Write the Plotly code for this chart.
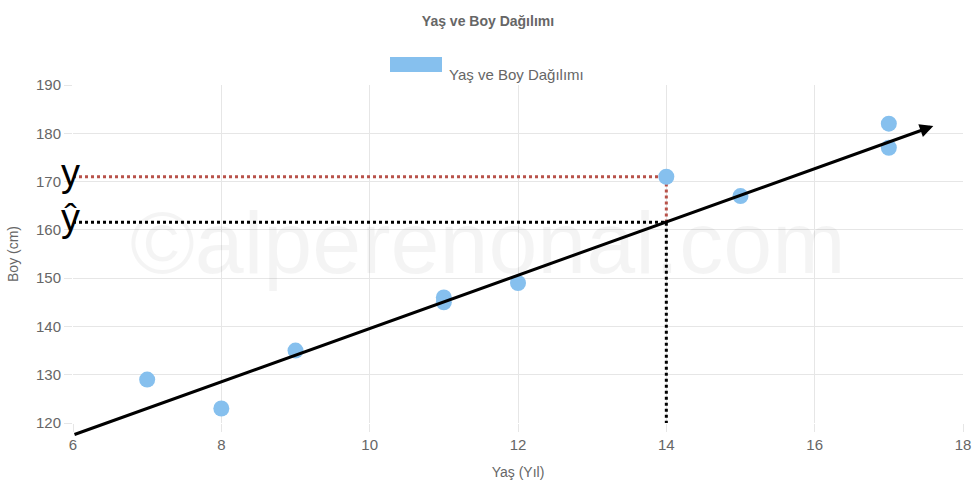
import plotly.graph_objects as go

# Data
ages = [7, 8, 9, 11, 11, 12, 14, 15, 17, 17]
heights = [129, 123, 135, 146, 145, 149, 171, 167, 182, 177]
series_name = "Yaş ve Boy Dağılımı"
reg_x = [6, 17.6]
reg_y = [117.5, 181.5]
focus_x = 14
focus_y = 171
focus_yhat = 161.6
x_ticks = [6, 8, 10, 12, 14, 16, 18]
y_ticks = [120, 130, 140, 150, 160, 170, 180, 190]

L, R, T, B = 73, 13, 85, 65
W, H = 976, 488
pw, ph = W - L - R, H - T - B
FONT = "Liberation Sans, Arial, sans-serif"

def px(xp):
    return (xp - L) / pw

def py(yp):
    return (H - B - yp) / ph

fig = go.Figure()

# residual dotted lines
fig.add_trace(go.Scatter(x=[6, focus_x, focus_x], y=[focus_y, focus_y, focus_yhat],
                         mode="lines", line=dict(color="#b8524a", width=3, dash="dot"),
                         showlegend=False, hoverinfo="skip"))
fig.add_trace(go.Scatter(x=[6, focus_x, focus_x], y=[focus_yhat, focus_yhat, 120],
                         mode="lines", line=dict(color="#000000", width=3, dash="dot"),
                         showlegend=False, hoverinfo="skip"))

fig.add_trace(go.Scatter(x=ages, y=heights, mode="markers", name=series_name,
                         marker=dict(color="#86c0ee", size=16), showlegend=False,
                         cliponaxis=False))

# regression arrow
fig.add_annotation(x=reg_x[1], y=reg_y[1], ax=reg_x[0], ay=reg_y[0],
                   xref="x", yref="y", axref="x", ayref="y", text="",
                   showarrow=True, arrowhead=2, arrowsize=0.9, arrowwidth=3,
                   arrowcolor="#000000", standoff=0, startstandoff=0)

# watermark
fig.add_annotation(x=px(487), y=py(243), xref="paper", yref="paper",
                   text="©alperenonal.com", showarrow=False,
                   font=dict(size=88, color="rgba(0,0,0,0.045)", family=FONT))

# y / ŷ labels
fig.add_annotation(x=px(59), y=py(150), xref="paper", yref="paper", text="y",
                   showarrow=False, font=dict(size=38, color="#000", family=FONT))
fig.add_annotation(x=px(59), y=py(218), xref="paper", yref="paper", text="ŷ",
                   showarrow=False, font=dict(size=38, color="#000", family=FONT))

# manual legend
fig.add_shape(type="rect", xref="paper", yref="paper",
              x0=px(390), x1=px(442), y0=py(72), y1=py(57),
              fillcolor="#86c0ee", line=dict(width=0))
fig.add_annotation(x=px(447), y=py(64), xref="paper", yref="paper", text=series_name,
                   showarrow=False, xanchor="left",
                   font=dict(size=15, color="#666", family=FONT))

fig.update_layout(
    width=W, height=H,
    margin=dict(l=L, r=R, t=T, b=B),
    plot_bgcolor="white", paper_bgcolor="white",
    title=dict(text="<b>" + series_name + "</b>", x=0.5, xanchor="center",
               y=1 - 21 / H, yanchor="middle",
               font=dict(size=14, color="#666", family=FONT)),
    font=dict(family=FONT, color="#666", size=14),
    showlegend=False,
)
fig.update_xaxes(range=[6, 18], tickvals=x_ticks, showgrid=True, gridcolor="#e6e6e6",
                 zeroline=False, showline=False, ticks="outside", ticklen=8,
                 tickcolor="#e6e6e6", automargin=False,
                 title=dict(text="Yaş (Yıl)", standoff=15, font=dict(size=14, color="#666")),
                 tickfont=dict(size=15, color="#666"))
fig.update_yaxes(range=[120, 190], tickvals=y_ticks, showgrid=True, gridcolor="#e6e6e6",
                 zeroline=False, showline=False, ticks="outside", ticklen=8,
                 tickcolor="#e6e6e6", automargin=False,
                 title=dict(text="Boy (cm)", standoff=14, font=dict(size=14, color="#666")),
                 tickfont=dict(size=15, color="#666"))

fig.write_html("out.html", config={"displayModeBar": False},
               post_script="document.body.style.margin='0';document.body.style.overflow='hidden';")
